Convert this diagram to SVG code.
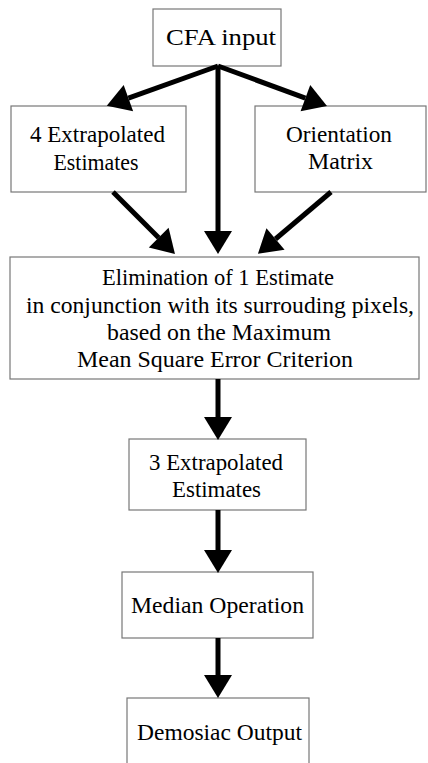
<svg xmlns="http://www.w3.org/2000/svg" width="428" height="763" viewBox="0 0 428 763">
<style>
.box{fill:#fff;stroke:#777;stroke-width:1.2}
text{font-size:23px;fill:#000;text-anchor:middle}
.c{stroke:#000;stroke-width:5;fill:none;marker-end:url(#ah)}
</style>
<defs>
<marker id="ah" markerUnits="userSpaceOnUse" markerWidth="26" markerHeight="30" refX="0" refY="14" orient="auto" overflow="visible">
<path d="M0,0 L23,14 L0,28 z" fill="#000"/>
</marker>
</defs>
<rect width="428" height="763" fill="#fff"/>
<g font-family="Liberation Serif, Times New Roman, DejaVu Serif, serif">
<g id="cfa"><rect class="box" x="153" y="9" width="128" height="57"/><text x="221" y="45" textLength="110" lengthAdjust="spacingAndGlyphs">CFA input</text></g>
<g id="est4"><rect class="box" x="11" y="106" width="175" height="86"/><text x="97.5" y="142" textLength="135" lengthAdjust="spacingAndGlyphs">4 Extrapolated</text><text x="96" y="170" textLength="85" lengthAdjust="spacingAndGlyphs">Estimates</text></g>
<g id="orient"><rect class="box" x="255" y="106" width="171" height="86"/><text x="339" y="142" textLength="106" lengthAdjust="spacingAndGlyphs">Orientation</text><text x="340.5" y="169" textLength="65" lengthAdjust="spacingAndGlyphs">Matrix</text></g>
<g id="elim"><rect class="box" x="10" y="257" width="409" height="122"/>
<text x="218" y="285" textLength="232" lengthAdjust="spacingAndGlyphs">Elimination of 1 Estimate</text>
<text x="220" y="313" textLength="388" lengthAdjust="spacingAndGlyphs">in conjunction with its surrouding pixels,</text>
<text x="219" y="340" textLength="224" lengthAdjust="spacingAndGlyphs">based on the Maximum</text>
<text x="215" y="367" textLength="276" lengthAdjust="spacingAndGlyphs">Mean Square Error Criterion</text></g>
<g id="est3"><rect class="box" x="129" y="439" width="177" height="71"/><text x="216" y="470" textLength="134" lengthAdjust="spacingAndGlyphs">3 Extrapolated</text><text x="216.5" y="497" textLength="89" lengthAdjust="spacingAndGlyphs">Estimates</text></g>
<g id="median"><rect class="box" x="122" y="572" width="191" height="66"/><text x="217.5" y="613" textLength="173" lengthAdjust="spacingAndGlyphs">Median Operation</text></g>
<g id="out"><rect class="box" x="127" y="698" width="182" height="80"/><text x="219.5" y="740" textLength="165" lengthAdjust="spacingAndGlyphs">Demosiac Output</text></g>
</g>
<g id="connectors">
<line class="c" x1="218" y1="66" x2="128.4" y2="98.1"/>
<line class="c" x1="218" y1="66" x2="305.4" y2="98.1"/>
<line class="c" x1="218" y1="66" x2="218" y2="231"/>
<line class="c" x1="113" y1="192" x2="158.7" y2="237.7"/>
<line class="c" x1="331" y1="192" x2="275.5" y2="239"/>
<line class="c" x1="218" y1="379" x2="218" y2="417"/>
<line class="c" x1="218" y1="510" x2="218" y2="550"/>
<line class="c" x1="218" y1="638" x2="218" y2="675"/>
</g>
</svg>
